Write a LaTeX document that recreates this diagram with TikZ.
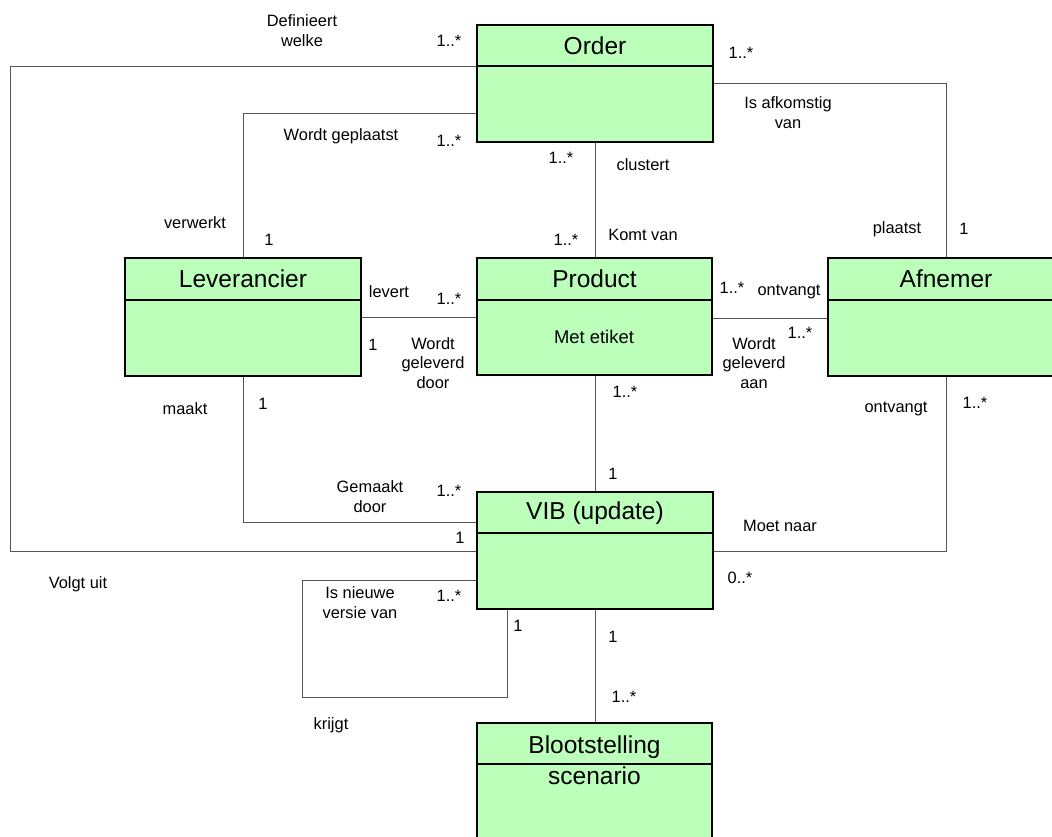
\documentclass[tikz,border=0pt]{standalone}
\usepackage{fontspec}
\setmainfont{Liberation Sans}
\usetikzlibrary{calc}
\definecolor{boxfill}{HTML}{BBFFBB}
\definecolor{linegray}{HTML}{555555}
\begin{document}
\begin{tikzpicture}[x=1pt,y=-1pt,
  cls/.style={draw=black, line width=2pt, fill=boxfill, rectangle, anchor=north west,
    minimum width=236pt, minimum height=117pt, inner sep=0pt, outer sep=0pt},
  divider/.style={draw=black, line width=2pt},
  conn/.style={draw=linegray, line width=1pt},
  title/.style={font=\fontsize{24.5}{28}\selectfont, inner sep=0pt},
  lab/.style={font=\fontsize{16.4}{19.8}\selectfont, align=center, inner sep=0pt},
  bodytext/.style={font=\fontsize{18.4}{22}\selectfont, inner sep=0pt}]
\clip (0,0) rectangle (1052,836);
\useasboundingbox (0,0) rectangle (1052,836);
\fill[white] (0,0) rectangle (1052,836);

% class boxes
\node[cls] (order) at (477,25) {};
\node[cls, minimum height=118pt] (lev) at (125,258) {};
\node[cls, minimum width=235pt] (prod) at (477,258) {};
\node[cls, minimum height=118pt] (afn) at (828,258) {};
\node[cls] (vib) at (477,492) {};
\node[cls, minimum width=235pt, minimum height=130pt] (bloot) at (477,723) {};

% connectors
\coordinate (c1a) at (10,66);
\coordinate (c1b) at (10,551);
\draw[conn] ([yshift=-41pt]order.north west) -- (c1a) -- (c1b) -- ([yshift=-59pt]vib.north west);
\coordinate (c2) at (243,113);
\draw[conn] ([yshift=-88pt]order.north west) -- (c2) -- (c2 |- lev.north);
\coordinate (c3) at (946,83);
\draw[conn] ([yshift=-58pt]order.north east) -- (c3) -- (c3 |- afn.north);
\draw[conn] ([xshift=118pt]order.south west) -- ([xshift=118pt]prod.north west);
\draw[conn] ([yshift=-59pt]lev.north east) -- ([yshift=-59pt]prod.north west);
\draw[conn] ([yshift=-60pt]prod.north east) -- ([yshift=-60pt]afn.north west);
\coordinate (c7) at (243,522);
\draw[conn] (c7 |- lev.south) -- (c7) -- ([yshift=-30pt]vib.north west);
\draw[conn] ([xshift=118pt]prod.south west) -- ([xshift=118pt]vib.north west);
\coordinate (c9) at (946,551);
\draw[conn] (c9 |- afn.south) -- (c9) -- ([yshift=-59pt]vib.north east);
\coordinate (c10a) at (302,580);
\coordinate (c10b) at (302,697);
\coordinate (c10c) at (507,697);
\draw[conn] ([yshift=-88pt]vib.north west) -- (c10a) -- (c10b) -- (c10c) -- (c10c |- vib.south);
\draw[conn] ([xshift=118pt]vib.south west) -- ([xshift=118pt]bloot.north west);

% redraw boxes on top
\draw[cls] (order.north west) rectangle (order.south east);
\draw[cls] (lev.north west) rectangle (lev.south east);
\draw[cls] (prod.north west) rectangle (prod.south east);
\draw[cls] (afn.north west) rectangle (afn.south east);
\draw[cls] (vib.north west) rectangle (vib.south east);
\draw[cls] (bloot.north west) rectangle (bloot.south east);

% dividers
\draw[divider] ([yshift=-41pt]order.north west) -- ([yshift=-41pt]order.north east);
\draw[divider] ([yshift=-42pt]lev.north west) -- ([yshift=-42pt]lev.north east);
\draw[divider] ([yshift=-42pt]prod.north west) -- ([yshift=-42pt]prod.north east);
\draw[divider] ([yshift=-42pt]afn.north west) -- ([yshift=-42pt]afn.north east);
\draw[divider] ([yshift=-41pt]vib.north west) -- ([yshift=-41pt]vib.north east);
\draw[divider] ([yshift=-41pt]bloot.north west) -- ([yshift=-41pt]bloot.north east);

% titles
\node[title] (t1) at ([yshift=-21pt]order.north) {Order};
\node[title] (t2) at ([yshift=-21pt]lev.north) {Leverancier};
\node[title] (t3) at ([yshift=-21pt]prod.north) {Product};
\node[title] (t4) at ([yshift=-21pt]afn.north) {Afnemer};
\node[title] (t5) at ([yshift=-21pt]vib.north) {VIB (update)};
\node[title] (t6) at ([yshift=-24pt]bloot.north) {Blootstelling};
\node[title] (t7) at ([yshift=-53pt]bloot.north) {scenario};
\node[bodytext] (b3) at (594,337) {Met etiket};

% labels
\node[lab] (l1) at (302,31) {Definieert\\welke};
\node[lab] (l2) at (449,41) {1..*};
\node[lab] (l3) at (741,53) {1..*};
\node[lab] (l4) at (788,113) {Is afkomstig\\van};
\node[lab] (l5) at (897,229) {plaatst};
\node[lab] (l6) at (964,229) {1};
\node[lab] (l7) at (341,136) {Wordt geplaatst};
\node[lab] (l8) at (449,141) {1..*};
\node[lab] (l9) at (561,158) {1..*};
\node[lab] (l10) at (643,165) {clustert};
\node[lab] (l11) at (195,223) {verwerkt};
\node[lab] (l12) at (269,240) {1};
\node[lab] (l13) at (566,240) {1..*};
\node[lab] (l14) at (643,235) {Komt van};
\node[lab] (l15) at (389,292) {levert};
\node[lab] (l16) at (449,299) {1..*};
\node[lab] (l17) at (373,345) {1};
\node[lab] (l18) at (433,363) {Wordt\\geleverd\\door};
\node[lab] (l19) at (732,288) {1..*};
\node[lab] (l20) at (789,292) {ontvangt};
\node[lab] (l21) at (800,333) {1..*};
\node[lab] (l22) at (754,363) {Wordt\\geleverd\\aan};
\node[lab] (l23) at (185,409) {maakt};
\node[lab] (l24) at (263,404) {1};
\node[lab] (l25) at (625,392) {1..*};
\node[lab] (l26) at (896,409) {ontvangt};
\node[lab] (l27) at (975,403) {1..*};
\node[lab] (l28) at (613,474) {1};
\node[lab] (l29) at (370,497) {Gemaakt\\door};
\node[lab] (l30) at (449,491) {1..*};
\node[lab] (l31) at (460,538) {1};
\node[lab] (l32) at (780,526) {Moet naar};
\node[lab] (l33) at (740,578) {0..*};
\node[lab] (l34) at (78,584) {Volgt uit};
\node[lab] (l35) at (360,603) {Is nieuwe\\versie van};
\node[lab] (l36) at (449,596) {1..*};
\node[lab] (l37) at (518,626) {1};
\node[lab] (l38) at (613,637) {1};
\node[lab] (l39) at (624,697) {1..*};
\node[lab] (l40) at (331,725) {krijgt};
\end{tikzpicture}
\end{document}
